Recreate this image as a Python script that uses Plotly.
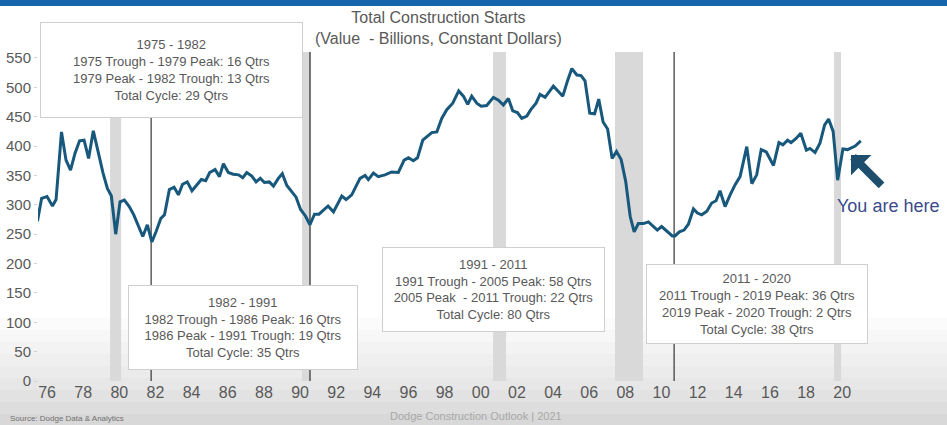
import plotly.graph_objects as go

# ---- data ----
years = [1975.47, 1975.70, 1976.00, 1976.30, 1976.50, 1976.80, 1977.05, 1977.30, 1977.55, 1977.80,
         1978.05, 1978.30, 1978.56, 1978.84, 1979.10, 1979.34, 1979.56, 1979.80, 1980.04, 1980.28,
         1980.55, 1980.80, 1981.05, 1981.30, 1981.55, 1981.80, 1982.03, 1982.30, 1982.50, 1982.77,
         1983.03, 1983.27, 1983.50, 1983.76, 1984.02, 1984.28, 1984.54, 1984.78, 1985.00, 1985.30,
         1985.54, 1985.76, 1986.03, 1986.30, 1986.60, 1986.83, 1987.05, 1987.33, 1987.57, 1987.80,
         1988.03, 1988.30, 1988.53, 1988.80, 1989.02, 1989.27, 1989.55, 1989.78, 1990.03, 1990.30,
         1990.55, 1990.80, 1991.05, 1991.30, 1991.55, 1991.85, 1992.31, 1992.55, 1992.86, 1993.32,
         1993.60, 1993.78, 1994.06, 1994.33, 1994.70, 1995.07, 1995.44, 1995.76, 1996.00, 1996.27,
         1996.50, 1996.79, 1997.05, 1997.29, 1997.57, 1997.84, 1998.12, 1998.45, 1998.78, 1999.04,
         1999.28, 1999.50, 1999.78, 2000.02, 2000.33, 2000.70, 2000.98, 2001.25, 2001.53, 2001.77,
         2002.03, 2002.27, 2002.55, 2002.77, 2003.06, 2003.28, 2003.56, 2003.74, 2004.02, 2004.30,
         2004.54, 2004.80, 2005.04, 2005.32, 2005.55, 2005.77, 2006.03, 2006.30, 2006.53, 2006.77,
         2007.02, 2007.27, 2007.51, 2007.77, 2008.02, 2008.27, 2008.49, 2008.72, 2009.00, 2009.28,
         2009.55, 2009.77, 2010.01, 2010.29, 2010.60, 2010.75, 2010.99, 2011.25, 2011.49, 2011.77,
         2011.99, 2012.23, 2012.51, 2012.78, 2013.02, 2013.24, 2013.52, 2013.80, 2014.07, 2014.35,
         2014.72, 2015.00, 2015.27, 2015.52, 2015.80, 2016.20, 2016.50, 2016.72, 2016.98, 2017.17,
         2017.45, 2017.71, 2018.02, 2018.22, 2018.50, 2018.77, 2019.03, 2019.25, 2019.50, 2019.75,
         2020.04, 2020.30, 2020.72, 2021.03]
starts = [272, 311, 314, 298, 309, 424, 376, 359, 388, 409,
          410, 379, 426, 388, 354, 328, 315, 250, 305, 308,
          297, 283, 266, 246, 266, 237, 254, 277, 283, 326,
          330, 317, 335, 339, 324, 334, 343, 341, 355, 360,
          348, 370, 355, 352, 351, 346, 355, 349, 339, 345,
          338, 339, 332, 345, 353, 333, 321, 313, 292, 281,
          266, 284, 284, 291, 298, 288, 315, 309, 317, 345,
          350, 343, 354, 348, 351, 356, 355, 376, 380, 375,
          380, 410, 416, 423, 424, 447, 462, 473, 494, 485,
          471, 485, 473, 468, 469, 483, 478, 470, 481, 460,
          457, 447, 451, 462, 473, 488, 483, 491, 502, 493,
          485, 511, 532, 521, 520, 511, 456, 455, 480, 441,
          429, 379, 391, 377, 340, 280, 254, 268, 268, 271,
          263, 257, 263, 256, 247, 247, 254, 257, 267, 293,
          286, 283, 289, 303, 307, 324, 297, 317, 334, 348,
          399, 336, 351, 394, 390, 367, 406, 402, 410, 406,
          413, 422, 393, 396, 389, 405, 436, 446, 425, 342,
          395, 394, 400, 409]

tick_vals = list(range(1976, 2021, 2))
tick_text = ["76", "78", "80", "82", "84", "86", "88", "90", "92", "94", "96", "98",
             "00", "02", "04", "06", "08", "10", "12", "14", "16", "18", "20"]
y_ticks = [0, 50, 100, 150, 200, 250, 300, 350, 400, 450, 500, 550]

recession_start = [1979.49, 1990.11, 2000.68, 2007.43, 2019.55]
recession_end = [1980.10, 1990.61, 2001.40, 2008.98, 2019.94]
trough_lines = [1981.76, 1990.55, 2010.70]

box_texts = [
    "1975 - 1982<br>1975 Trough - 1979 Peak: 16 Qtrs<br>1979 Peak - 1982 Trough: 13 Qtrs<br>Total Cycle: 29 Qtrs",
    "1982 - 1991<br>1982 Trough - 1986 Peak: 16 Qtrs<br>1986 Peak - 1991 Trough: 19 Qtrs<br>Total Cycle: 35 Qtrs",
    "1991 - 2011<br>1991 Trough - 2005 Peak: 58 Qtrs<br>2005 Peak \u00a0- 2011 Trough: 22 Qtrs<br>Total Cycle: 80 Qtrs",
    "2011 - 2020<br>2011 Trough - 2019 Peak: 36 Qtrs<br>2019 Peak - 2020 Trough: 2 Qtrs<br>Total Cycle: 38 Qtrs",
]
box_x = [1982.89, 1986.85, 2000.71, 2015.29]
box_y = [529.5, 91.0, 155.8, 131.0]
box_w = [261, 228, 221, 220]
box_h = [94, 83, 83, 78]

FONT = "Liberation Sans, Arial, sans-serif"
GREY = "#595959"

fig = go.Figure()
fig.add_trace(go.Scatter(x=years, y=starts, mode="lines",
                         line=dict(color="#17587c", width=3), hoverinfo="skip", showlegend=False))

shapes = []
# soft grey gradient at the bottom of the slide
band_top = [318, 330, 342, 354, 366, 378, 390, 402, 414]
band_col = ["#fbfbfb", "#f7f7f7", "#f3f3f3", "#efefef", "#ebebeb", "#e7e7e7", "#e2e2e2", "#dddddd", "#d8d8d8"]
for i, (t, c) in enumerate(zip(band_top, band_col)):
    b = band_top[i + 1] if i + 1 < len(band_top) else 426
    shapes.append(dict(type="rect", xref="paper", yref="paper", x0=-0.05, x1=1.01,
                       y0=(381 - b) / 329, y1=(381 - t) / 329, fillcolor=c, line=dict(width=0), layer="below"))
for s, e in zip(recession_start, recession_end):
    shapes.append(dict(type="rect", xref="x", yref="paper", x0=s, x1=e, y0=0, y1=1,
                       fillcolor="#d9d9d9", line=dict(width=0), layer="below"))
for t in trough_lines:
    shapes.append(dict(type="line", xref="x", yref="paper", x0=t, x1=t, y0=0, y1=1,
                       line=dict(color="#333333", width=1.2), layer="below"))
# top blue band
shapes.append(dict(type="rect", xref="paper", yref="paper", x0=-0.05, x1=1.01,
                   y0=(381 - 6) / 329, y1=(381 + 2) / 329, fillcolor="#1765ad", line=dict(width=0)))

annotations = []
annotations.append(dict(xref="paper", yref="paper", x=(438 - 38) / 907, y=(381 - 28) / 329,
                        text="Total Construction Starts<br>(Value \u00a0- Billions, Constant Dollars)",
                        showarrow=False, xanchor="center", yanchor="middle",
                        font=dict(family=FONT, size=16, color=GREY)))
for t, x, y, w, h in zip(box_texts, box_x, box_y, box_w, box_h):
    annotations.append(dict(x=x, y=y, xref="x", yref="y", text=t, showarrow=False,
                            xanchor="center", yanchor="middle", align="center", valign="middle",
                            width=w, height=h, bgcolor="white", bordercolor="#cfcfcf",
                            borderwidth=1, borderpad=0,
                            font=dict(family=FONT, size=13, color=GREY)))
annotations.append(dict(x=2020.49, y=385, xref="x", yref="y", text="", showarrow=True,
                        ax=32, ay=32, arrowhead=1, arrowsize=0.6, arrowwidth=8,
                        arrowcolor="#1d4e6d"))
annotations.append(dict(x=2019.61, y=298, xref="x", yref="y", text="You are here", showarrow=False,
                        xanchor="left", yanchor="middle",
                        font=dict(family=FONT, size=18, color="#3b4b8c")))
annotations.append(dict(xref="paper", yref="paper", x=(8 - 38) / 907, y=(381 - 418) / 329,
                        text="Source: Dodge Data & Analytics", showarrow=False,
                        xanchor="left", yanchor="middle",
                        font=dict(family=FONT, size=8, color="#6f6f6f")))
annotations.append(dict(xref="paper", yref="paper", x=(388 - 38) / 907, y=(381 - 424) / 329,
                        text="Dodge Construction Outlook | 2021", showarrow=False,
                        xanchor="left", yanchor="bottom",
                        font=dict(family=FONT, size=11, color="#a8a8a8")))

fig.update_layout(
    width=947, height=425,
    margin=dict(l=38, r=2, t=52, b=44),
    paper_bgcolor="white", plot_bgcolor="rgba(0,0,0,0)",
    shapes=shapes, annotations=annotations, showlegend=False,
    xaxis=dict(range=[1975.5, 2025.69], tickmode="array", tickvals=tick_vals, ticktext=tick_text,
               showgrid=False, zeroline=False, showline=False, ticks="",
               tickfont=dict(family=FONT, size=16, color=GREY)),
    yaxis=dict(range=[0, 560.2], tickmode="array", tickvals=y_ticks,
               showgrid=False, zeroline=False, showline=False, ticks="outside", ticklen=3,
               tickcolor="#d0d0d0",
               tickfont=dict(family=FONT, size=15, color=GREY)),
)

fig.write_html("out.html", config={"displayModeBar": False},
               post_script="document.body.style.margin='0';document.body.style.overflow='hidden';")
